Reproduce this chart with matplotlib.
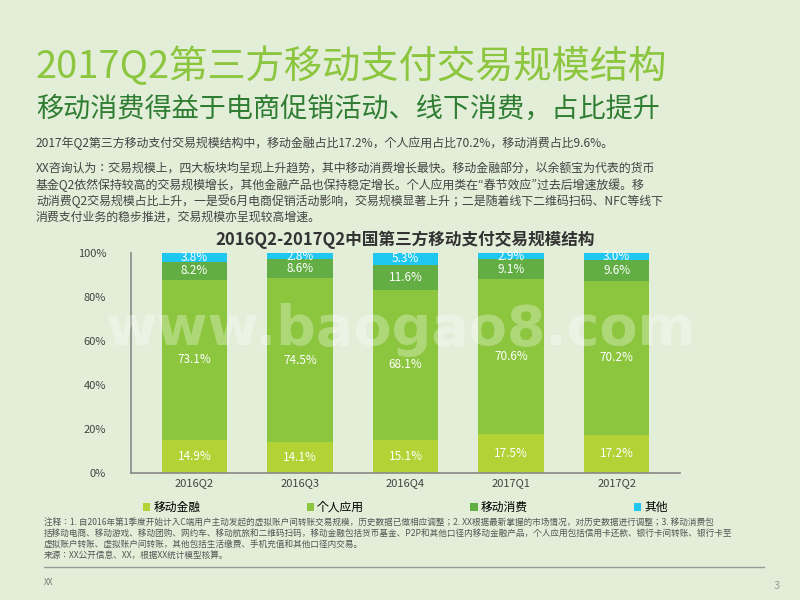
import matplotlib
matplotlib.use('Agg')
import matplotlib.pyplot as plt
from matplotlib import font_manager
import numpy as np

cjk = [f.name for f in font_manager.fontManager.ttflist if 'CJK' in f.name]
plt.rcParams['font.family'] = 'sans-serif'
plt.rcParams['font.sans-serif'] = sorted(set(cjk)) + ['Noto Sans CJK SC', 'DejaVu Sans']

quarters = ['2016Q2', '2016Q3', '2016Q4', '2017Q1', '2017Q2']
finance = [14.9, 14.1, 15.1, 17.5, 17.2]
personal = [73.1, 74.5, 68.1, 70.6, 70.2]
consume = [8.2, 8.6, 11.6, 9.1, 9.6]
other = [3.8, 2.8, 5.3, 2.9, 3.0]
series_names = ['移动金融', '个人应用', '移动消费', '其他']
colors = ['#b2d235', '#8cc63f', '#62ae44', '#1ec6f0']

bg = '#e3eed9'
fig = plt.figure(figsize=(8, 6), dpi=100, facecolor=bg)

fig.text(0.045, 0.87, '2017Q2第三方移动支付交易规模结构', fontsize=27.5, color='#8cc63f')
fig.text(0.045, 0.805, '移动消费得益于电商促销活动、线下消费，占比提升', fontsize=19.5, color='#2f7d32')
fig.text(0.045, 0.755, '2017年Q2第三方移动支付交易规模结构中，移动金融占比17.2%，个人应用占比70.2%，移动消费占比9.6%。',
         fontsize=8.6, color='#444444')
para = ('XX咨询认为：交易规模上，四大板块均呈现上升趋势，其中移动消费增长最快。移动金融部分，以余额宝为代表的货币\n'
        '基金Q2依然保持较高的交易规模增长，其他金融产品也保持稳定增长。个人应用类在“春节效应”过去后增速放缓。移\n'
        '动消费Q2交易规模占比上升，一是受6月电商促销活动影响，交易规模显著上升；二是随着线下二维码扫码、NFC等线下\n'
        '消费支付业务的稳步推进，交易规模亦呈现较高增速。')
fig.text(0.045, 0.632, para, fontsize=8.6, color='#444444', linespacing=1.25)

ax = fig.add_axes([0.164, 0.212, 0.686, 0.366])
ax.set_facecolor(bg)
x = np.arange(len(quarters))
bottom = np.zeros(len(quarters))
for vals, name, c in zip([finance, personal, consume, other], series_names, colors):
    vals = np.array(vals)
    ax.bar(x, vals, 0.62, bottom=bottom, color=c, label=name)
    for xi, b, v in zip(x, bottom, vals):
        ax.text(xi, b + v / 2, f'{v:.1f}%', ha='center', va='center', color='white', fontsize=8.5)
    bottom += vals

ax.set_xlim(-0.6, len(quarters) - 0.4)
ax.set_ylim(0, 100)
ax.set_xticks(x)
ax.set_xticklabels(quarters, fontsize=8, color='#444444')
ax.set_yticks(range(0, 101, 20))
ax.set_yticklabels([f'{v}%' for v in range(0, 101, 20)], fontsize=8, color='#444444')
ax.tick_params(length=0, axis='y', pad=18)
ax.tick_params(length=0, axis='x', pad=4)
for s in ['top', 'right']:
    ax.spines[s].set_visible(False)
for s in ['left', 'bottom']:
    ax.spines[s].set_color('#888888')
    ax.spines[s].set_linewidth(1.2)
ax.set_title('2016Q2-2017Q2中国第三方移动支付交易规模结构', fontsize=12, fontweight='bold',
             color='#333333', pad=6)
ax.legend(loc='upper center', bbox_to_anchor=(0.5, -0.08), ncol=4, frameon=False, fontsize=8.5,
          handlelength=0.6, handleheight=0.6, columnspacing=9, handletextpad=0.3)

fig.text(0.5, 0.45, 'www.baogao8.com', fontsize=40, color='white', alpha=0.3,
         ha='center', va='center', fontweight='bold', family='DejaVu Sans')

notes = ('注释：1. 自2016年第1季度开始计入C端用户主动发起的虚拟账户间转账交易规模，历史数据已做相应调整；2. XX根据最新掌握的市场情况，对历史数据进行调整；3. 移动消费包\n'
         '括移动电商、移动游戏、移动团购、网约车、移动航旅和二维码扫码，移动金融包括货币基金、P2P和其他口径内移动金融产品，个人应用包括信用卡还款、银行卡间转账、银行卡至\n'
         '虚拟账户转账、虚拟账户间转账，其他包括生活缴费、手机充值和其他口径内交易。\n'
         '来源：XX公开信息、XX，根据XX统计模型核算。')
fig.text(0.055, 0.07, notes, fontsize=6.2, color='#555555', linespacing=1.3)
fig.add_artist(plt.Line2D([0.055, 0.955], [0.055, 0.055], color='#999999', lw=1))
fig.text(0.055, 0.025, 'XX', fontsize=6, color='#777777')
fig.text(0.975, 0.018, '3', fontsize=8, color='#999999', ha='right')

fig.savefig('out.png', dpi=100, facecolor=bg)
